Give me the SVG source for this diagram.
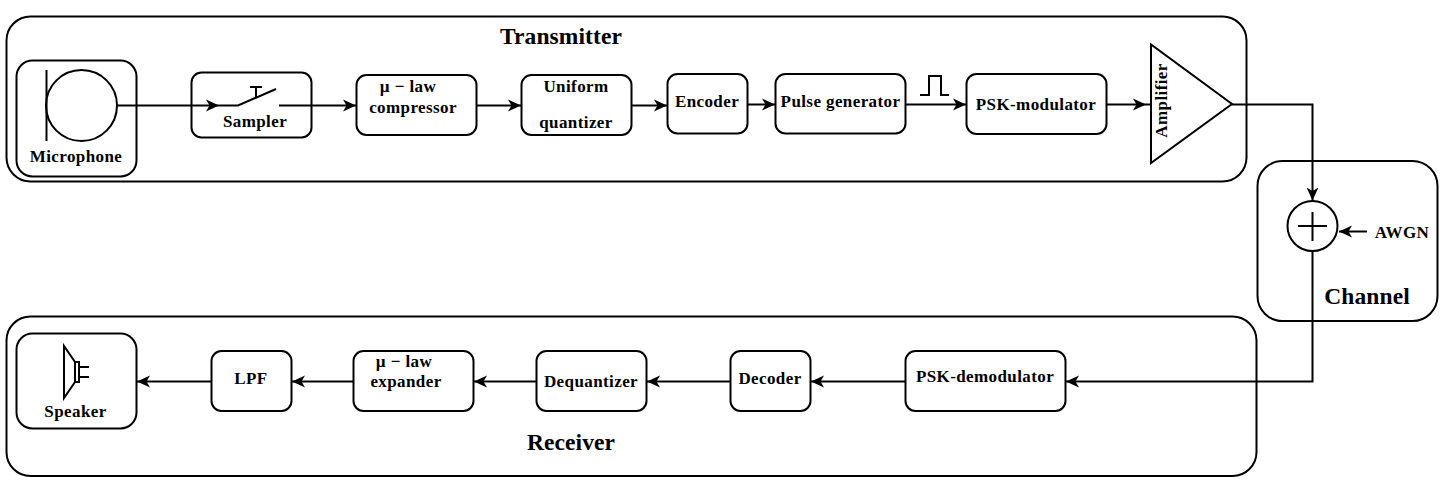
<svg xmlns="http://www.w3.org/2000/svg" width="1443" height="483" viewBox="0 0 1443 483">
<defs>
<marker id="arr" markerUnits="userSpaceOnUse" markerWidth="14" markerHeight="13" refX="13" refY="6.500" orient="auto"><path d="M0,0.500 L13,6.500 L0,12.500 L3.500,6.500 Z" fill="#000"/></marker>
</defs>
<style>
rect,circle,path.s,polygon.s{fill:none;stroke:#000;stroke-width:2}
line,polyline{fill:none;stroke:#000;stroke-width:2}
.c{marker-end:url(#arr)}
text{font-family:"Liberation Serif","Times New Roman",serif;font-weight:bold;font-size:17px;fill:#000;text-anchor:middle;letter-spacing:.4px}
.t{font-size:23.500px;letter-spacing:.1px}
</style>
<g id="transmitter"><rect x="6.500" y="16.500" width="1240" height="165" rx="24"/><text class="t" x="561" y="44">Transmitter</text></g>
<g id="channel"><rect x="1257.500" y="161" width="180" height="160" rx="25"/><text class="t" x="1367" y="304">Channel</text></g>
<g id="receiver"><rect x="6.500" y="316.500" width="1250" height="159.500" rx="24"/><text class="t" x="571" y="450">Receiver</text></g>
<g id="connectors">
<line class="c" x1="117" y1="105.500" x2="219" y2="105.500"/>
<line class="c" x1="279" y1="105.500" x2="356" y2="105.500"/>
<line class="c" x1="476.500" y1="105.500" x2="521" y2="105.500"/>
<line class="c" x1="631.500" y1="105.500" x2="667" y2="105.500"/>
<line class="c" x1="747.500" y1="104.500" x2="775" y2="104.500"/>
<line class="c" x1="905.500" y1="104.500" x2="966" y2="104.500"/>
<line class="c" x1="1106.500" y1="104.500" x2="1146" y2="104.500"/>
<line x1="1146" y1="104.500" x2="1151" y2="104.500"/>
<polyline class="c" points="1232,104.500 1312.500,104.500 1312.500,200.500"/>
<line class="c" x1="1367" y1="231.500" x2="1339" y2="231.500"/>
<polyline class="c" points="1312.500,251 1312.500,381.500 1066,381.500"/>
<line class="c" x1="905" y1="381.500" x2="811" y2="381.500"/>
<line class="c" x1="730" y1="381.500" x2="647" y2="381.500"/>
<line class="c" x1="536" y1="381.500" x2="474" y2="381.500"/>
<line class="c" x1="353" y1="381.500" x2="292" y2="381.500"/>
<line class="c" x1="211" y1="381.500" x2="137" y2="381.500"/>
</g>
<g id="microphone"><rect x="16.500" y="60.500" width="120" height="116" rx="16"/><circle cx="81.500" cy="105.500" r="35.500"/><line x1="46.500" y1="70" x2="46.500" y2="141"/><text x="76" y="162">Microphone</text></g>
<g id="sampler"><rect x="191.500" y="72.500" width="120" height="65" rx="10"/><polyline points="219,105.500 238,105.500 276,89"/><line x1="256" y1="97" x2="256" y2="87"/><line x1="250" y1="87" x2="262" y2="87"/><text x="255" y="127">Sampler</text></g>
<g id="compressor"><rect x="356.500" y="75" width="120" height="60" rx="10"/><text x="408" y="92">µ − law</text><text x="413" y="113">compressor</text></g>
<g id="quantizer"><rect x="521.500" y="75" width="110" height="60" rx="10"/><text x="576" y="92">Uniform</text><text x="576" y="128">quantizer</text></g>
<g id="encoder"><rect x="667.500" y="74" width="80" height="59.500" rx="10"/><text x="707" y="107">Encoder</text></g>
<g id="pulse"><rect x="775.500" y="74" width="130" height="59.500" rx="10"/><text x="840.500" y="107">Pulse generator</text></g>
<g id="pulse-icon"><polyline points="920,95 929,95 929,76 941,76 941,95 949,95"/></g>
<g id="psk-mod"><rect x="966.500" y="74" width="140" height="60" rx="10"/><text x="1036" y="110">PSK-modulator</text></g>
<g id="amplifier"><polygon class="s" points="1151,44.500 1151,163 1232,104"/><text transform="translate(1167,100.500) rotate(-90)">Amplifier</text></g>
<g id="sum"><circle cx="1312.500" cy="226" r="25"/><line x1="1298" y1="226" x2="1327" y2="226"/><line x1="1312.500" y1="212" x2="1312.500" y2="241"/><text x="1402" y="238">AWGN</text></g>
<g id="psk-demod"><rect x="905.500" y="351" width="160" height="60" rx="10"/><text x="985" y="382">PSK-demodulator</text></g>
<g id="decoder"><rect x="730.500" y="351" width="80" height="60" rx="10"/><text x="770" y="384">Decoder</text></g>
<g id="dequantizer"><rect x="536.500" y="351" width="110" height="60" rx="10"/><text x="591" y="387">Dequantizer</text></g>
<g id="expander"><rect x="353.500" y="351" width="120" height="60" rx="10"/><text x="404" y="367">µ − law</text><text x="406" y="387">expander</text></g>
<g id="lpf"><rect x="211.500" y="351" width="80" height="60" rx="10"/><text x="251" y="384">LPF</text></g>
<g id="speaker"><rect x="16.500" y="333.500" width="120" height="95" rx="16"/><polygon class="s" points="64,346 64,398 75,382 75,362"/><rect x="75" y="362" width="4" height="20"/><line x1="79" y1="367" x2="89" y2="367"/><line x1="79" y1="377" x2="89" y2="377"/><text x="75.500" y="417">Speaker</text></g>
</svg>
